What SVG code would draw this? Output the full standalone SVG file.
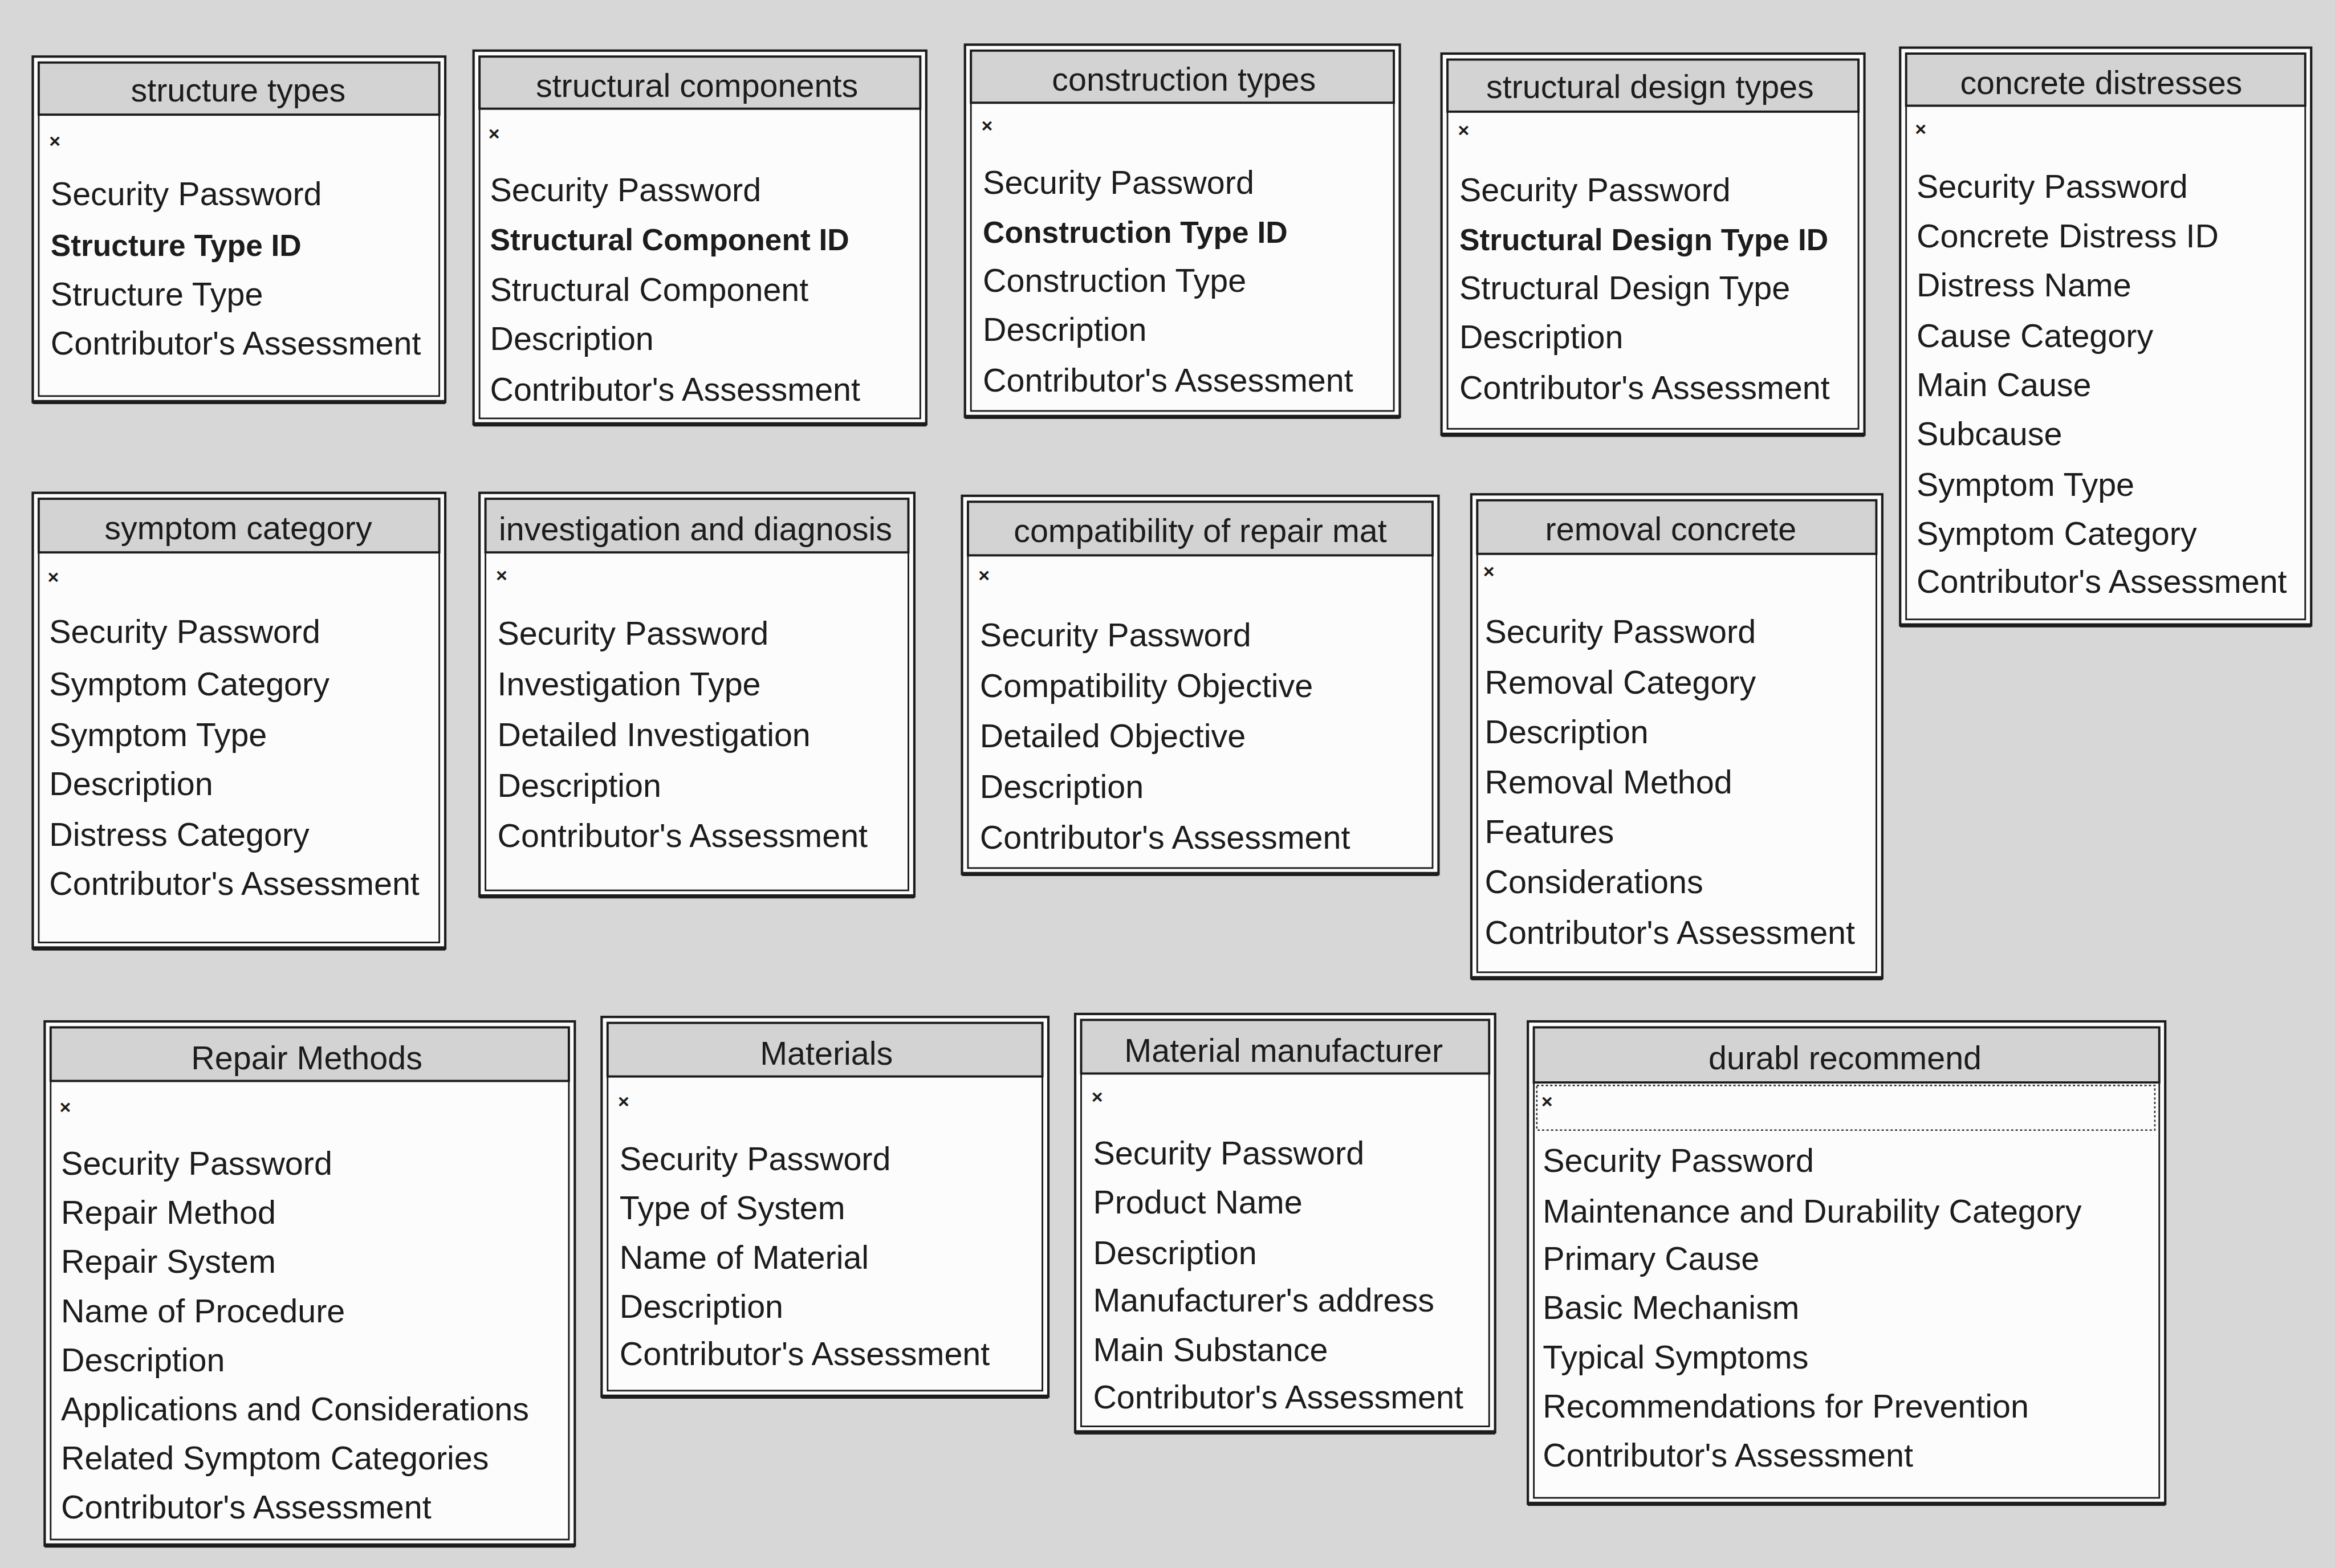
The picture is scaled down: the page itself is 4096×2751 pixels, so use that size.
<svg xmlns="http://www.w3.org/2000/svg" width="4096" height="2751" viewBox="0 0 4096 2751">
  <defs>
    <style>
      .frame { fill: #fcfcfc; stroke: #1c1c1c; stroke-width: 1.6; }
      .inner { fill: none; stroke: #1c1c1c; stroke-width: 1.1; }
      .title { fill: #d3d3d3; stroke: #1c1c1c; stroke-width: 1.5; }
      .base { stroke: #1c1c1c; stroke-width: 2.8; }
      .focus { fill: none; stroke: #333; stroke-width: 1; stroke-dasharray: 1.5 1.5; }
      text { font-family: "Liberation Sans", Arial, sans-serif; fill: #1c1c1c; }
      .hd { font-size: 22px; text-anchor: middle; }
      .f { font-size: 22px; }
      .k { font-size: 20.4px; font-weight: bold; }
      .x { font-size: 13px; font-weight: bold; }
    </style>
  </defs>
  <rect width="4096" height="2751" fill="#d7d7d7"/>
  <g transform="scale(2.612245)">

    <!-- row 1 -->
    <g id="structure-types">
      <rect class="frame" x="22" y="38" width="277" height="232"/>
      <rect class="inner" x="26" y="42" width="269" height="224"/>
      <rect class="title" x="26" y="42" width="269" height="35"/>
      <line class="base" x1="22" y1="270" x2="299" y2="270"/>
      <text class="hd" x="160" y="68">structure types</text>
      <text class="x" x="33" y="99">×</text>
      <text class="f" x="34" y="138">Security Password</text>
      <text class="k" x="34" y="172">Structure Type ID</text>
      <text class="f" x="34" y="205">Structure Type</text>
      <text class="f" x="34" y="238">Contributor's Assessment</text>
    </g>

    <g id="structural-components">
      <rect class="frame" x="318" y="34" width="304" height="251"/>
      <rect class="inner" x="322" y="38" width="296" height="243"/>
      <rect class="title" x="322" y="38" width="296" height="35"/>
      <line class="base" x1="318" y1="285" x2="622" y2="285"/>
      <text class="hd" x="468" y="65">structural components</text>
      <text class="x" x="328" y="94">×</text>
      <text class="f" x="329" y="135">Security Password</text>
      <text class="k" x="329" y="168">Structural Component ID</text>
      <text class="f" x="329" y="202">Structural Component</text>
      <text class="f" x="329" y="235">Description</text>
      <text class="f" x="329" y="269">Contributor's Assessment</text>
    </g>

    <g id="construction-types">
      <rect class="frame" x="648" y="30" width="292" height="250"/>
      <rect class="inner" x="652" y="34" width="284" height="242"/>
      <rect class="title" x="652" y="34" width="284" height="35"/>
      <line class="base" x1="648" y1="280" x2="940" y2="280"/>
      <text class="hd" x="795" y="61">construction types</text>
      <text class="x" x="659" y="89">×</text>
      <text class="f" x="660" y="130">Security Password</text>
      <text class="k" x="660" y="163">Construction Type ID</text>
      <text class="f" x="660" y="196">Construction Type</text>
      <text class="f" x="660" y="229">Description</text>
      <text class="f" x="660" y="263">Contributor's Assessment</text>
    </g>

    <g id="structural-design-types">
      <rect class="frame" x="968" y="36" width="284" height="256"/>
      <rect class="inner" x="972" y="40" width="276" height="248"/>
      <rect class="title" x="972" y="40" width="276" height="35"/>
      <line class="base" x1="968" y1="292" x2="1252" y2="292"/>
      <text class="hd" x="1108" y="66">structural design types</text>
      <text class="x" x="979" y="92">×</text>
      <text class="f" x="980" y="135">Security Password</text>
      <text class="k" x="980" y="168">Structural Design Type ID</text>
      <text class="f" x="980" y="201">Structural Design Type</text>
      <text class="f" x="980" y="234">Description</text>
      <text class="f" x="980" y="268">Contributor's Assessment</text>
    </g>

    <g id="concrete-distresses">
      <rect class="frame" x="1276" y="32" width="276" height="388"/>
      <rect class="inner" x="1280" y="36" width="268" height="380"/>
      <rect class="title" x="1280" y="36" width="268" height="35"/>
      <line class="base" x1="1276" y1="420" x2="1552" y2="420"/>
      <text class="hd" x="1411" y="63">concrete distresses</text>
      <text class="x" x="1286" y="91">×</text>
      <text class="f" x="1287" y="133">Security Password</text>
      <text class="f" x="1287" y="166">Concrete Distress ID</text>
      <text class="f" x="1287" y="199">Distress Name</text>
      <text class="f" x="1287" y="233">Cause Category</text>
      <text class="f" x="1287" y="266">Main Cause</text>
      <text class="f" x="1287" y="299">Subcause</text>
      <text class="f" x="1287" y="333">Symptom Type</text>
      <text class="f" x="1287" y="366">Symptom Category</text>
      <text class="f" x="1287" y="398">Contributor's Assessment</text>
    </g>

    <!-- row 2 -->
    <g id="symptom-category">
      <rect class="frame" x="22" y="331" width="277" height="306"/>
      <rect class="inner" x="26" y="335" width="269" height="298"/>
      <rect class="title" x="26" y="335" width="269" height="36"/>
      <line class="base" x1="22" y1="637" x2="299" y2="637"/>
      <text class="hd" x="160" y="362">symptom category</text>
      <text class="x" x="32" y="392">×</text>
      <text class="f" x="33" y="432">Security Password</text>
      <text class="f" x="33" y="467">Symptom Category</text>
      <text class="f" x="33" y="501">Symptom Type</text>
      <text class="f" x="33" y="534">Description</text>
      <text class="f" x="33" y="568">Distress Category</text>
      <text class="f" x="33" y="601">Contributor's Assessment</text>
    </g>

    <g id="investigation-and-diagnosis">
      <rect class="frame" x="322" y="331" width="292" height="271"/>
      <rect class="inner" x="326" y="335" width="284" height="263"/>
      <rect class="title" x="326" y="335" width="284" height="36"/>
      <line class="base" x1="322" y1="602" x2="614" y2="602"/>
      <text class="hd" x="467" y="363">investigation and diagnosis</text>
      <text class="x" x="333" y="391">×</text>
      <text class="f" x="334" y="433">Security Password</text>
      <text class="f" x="334" y="467">Investigation Type</text>
      <text class="f" x="334" y="501">Detailed Investigation</text>
      <text class="f" x="334" y="535">Description</text>
      <text class="f" x="334" y="569">Contributor's Assessment</text>
    </g>

    <g id="compatibility-of-repair-mat">
      <rect class="frame" x="646" y="333" width="320" height="254"/>
      <rect class="inner" x="650" y="337" width="312" height="246"/>
      <rect class="title" x="650" y="337" width="312" height="36"/>
      <line class="base" x1="646" y1="587" x2="966" y2="587"/>
      <text class="hd" x="806" y="364">compatibility of repair mat</text>
      <text class="x" x="657" y="391">×</text>
      <text class="f" x="658" y="434">Security Password</text>
      <text class="f" x="658" y="468">Compatibility Objective</text>
      <text class="f" x="658" y="502">Detailed Objective</text>
      <text class="f" x="658" y="536">Description</text>
      <text class="f" x="658" y="570">Contributor's Assessment</text>
    </g>

    <g id="removal-concrete">
      <rect class="frame" x="988" y="332" width="276" height="325"/>
      <rect class="inner" x="992" y="336" width="268" height="317"/>
      <rect class="title" x="992" y="336" width="268" height="36"/>
      <line class="base" x1="988" y1="657" x2="1264" y2="657"/>
      <text class="hd" x="1122" y="363">removal concrete</text>
      <text class="x" x="996" y="388">×</text>
      <text class="f" x="997" y="432">Security Password</text>
      <text class="f" x="997" y="466">Removal Category</text>
      <text class="f" x="997" y="499">Description</text>
      <text class="f" x="997" y="533">Removal Method</text>
      <text class="f" x="997" y="566">Features</text>
      <text class="f" x="997" y="600">Considerations</text>
      <text class="f" x="997" y="634">Contributor's Assessment</text>
    </g>

    <!-- row 3 -->
    <g id="repair-methods">
      <rect class="frame" x="30" y="686" width="356" height="352"/>
      <rect class="inner" x="34" y="690" width="348" height="344"/>
      <rect class="title" x="34" y="690" width="348" height="36"/>
      <line class="base" x1="30" y1="1038" x2="386" y2="1038"/>
      <text class="hd" x="206" y="718">Repair Methods</text>
      <text class="x" x="40" y="748">×</text>
      <text class="f" x="41" y="789">Security Password</text>
      <text class="f" x="41" y="822">Repair Method</text>
      <text class="f" x="41" y="855">Repair System</text>
      <text class="f" x="41" y="888">Name of Procedure</text>
      <text class="f" x="41" y="921">Description</text>
      <text class="f" x="41" y="954">Applications and Considerations</text>
      <text class="f" x="41" y="987">Related Symptom Categories</text>
      <text class="f" x="41" y="1020">Contributor's Assessment</text>
    </g>

    <g id="materials">
      <rect class="frame" x="404" y="683" width="300" height="255"/>
      <rect class="inner" x="408" y="687" width="292" height="247"/>
      <rect class="title" x="408" y="687" width="292" height="36"/>
      <line class="base" x1="404" y1="938" x2="704" y2="938"/>
      <text class="hd" x="555" y="715">Materials</text>
      <text class="x" x="415" y="744">×</text>
      <text class="f" x="416" y="786">Security Password</text>
      <text class="f" x="416" y="819">Type of System</text>
      <text class="f" x="416" y="852">Name of Material</text>
      <text class="f" x="416" y="885">Description</text>
      <text class="f" x="416" y="917">Contributor's Assessment</text>
    </g>

    <g id="material-manufacturer">
      <rect class="frame" x="722" y="681" width="282" height="281"/>
      <rect class="inner" x="726" y="685" width="274" height="273"/>
      <rect class="title" x="726" y="685" width="274" height="36"/>
      <line class="base" x1="722" y1="962" x2="1004" y2="962"/>
      <text class="hd" x="862" y="713">Material manufacturer</text>
      <text class="x" x="733" y="741">×</text>
      <text class="f" x="734" y="782">Security Password</text>
      <text class="f" x="734" y="815">Product Name</text>
      <text class="f" x="734" y="849">Description</text>
      <text class="f" x="734" y="881">Manufacturer's address</text>
      <text class="f" x="734" y="914">Main Substance</text>
      <text class="f" x="734" y="946">Contributor's Assessment</text>
    </g>

    <g id="durabl-recommend">
      <rect class="frame" x="1026" y="686" width="428" height="324"/>
      <rect class="inner" x="1030" y="690" width="420" height="316"/>
      <rect class="title" x="1030" y="690" width="420" height="37"/>
      <line class="base" x1="1026" y1="1010" x2="1454" y2="1010"/>
      <rect class="focus" x="1032" y="729" width="415" height="30"/>
      <text class="hd" x="1239" y="718">durabl recommend</text>
      <text class="x" x="1035" y="744">×</text>
      <text class="f" x="1036" y="787">Security Password</text>
      <text class="f" x="1036" y="821">Maintenance and Durability Category</text>
      <text class="f" x="1036" y="853">Primary Cause</text>
      <text class="f" x="1036" y="886">Basic Mechanism</text>
      <text class="f" x="1036" y="919">Typical Symptoms</text>
      <text class="f" x="1036" y="952">Recommendations for Prevention</text>
      <text class="f" x="1036" y="985">Contributor's Assessment</text>
    </g>

    <!-- the tables stand alone; no relationship lines are drawn -->
    <g id="connectors"/>
  </g>
</svg>
